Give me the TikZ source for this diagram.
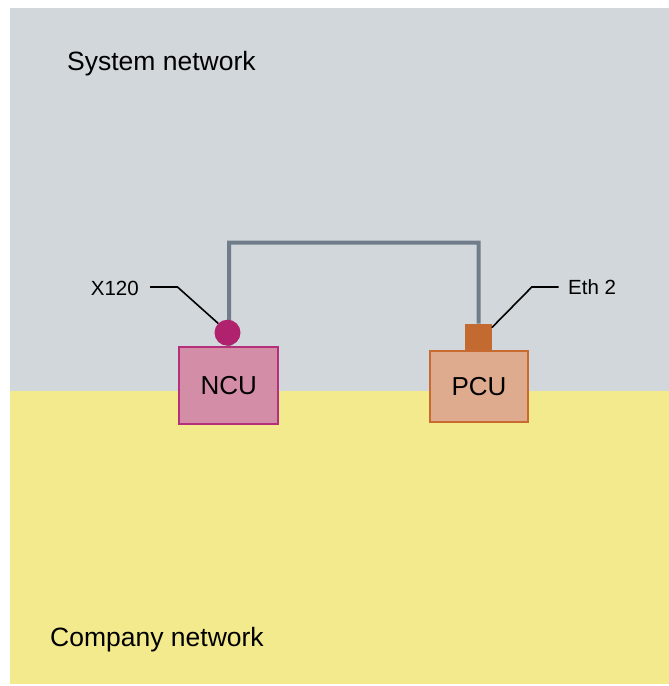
\documentclass[tikz,border=0pt]{standalone}
\usepackage{fontspec}
\setmainfont{Liberation Sans}
\definecolor{sysgray}{HTML}{D2D7DB}
\definecolor{compyellow}{HTML}{F2EA8C}
\definecolor{cablegray}{HTML}{707C8A}
\definecolor{ncufill}{HTML}{D38DA6}
\definecolor{ncuborder}{HTML}{B52F7B}
\definecolor{ncuport}{HTML}{B0216E}
\definecolor{pcufill}{HTML}{DFAB8E}
\definecolor{pcuborder}{HTML}{C96A30}
\definecolor{pcuportc}{HTML}{C36A30}
\tikzset{
  unitbox/.style={draw, line width=2pt, minimum width=#1, inner sep=0pt, font=\fontsize{26}{28}\selectfont},
  cable/.style={draw=cablegray, line width=4pt},
  leader/.style={draw=black, line width=1.6pt},
  zonelabel/.style={font=\fontsize{26.5}{28}\selectfont, inner sep=0pt, anchor=west},
  portlabel/.style={font=\fontsize{20.5}{22}\selectfont, inner sep=0pt},
}
\begin{document}
\begin{tikzpicture}[x=1pt,y=-1pt]
\useasboundingbox (0,0) rectangle (669,686);
\fill[white] (0,0) rectangle (669,686);
\fill[sysgray] (10,8) rectangle (669,391);
\fill[compyellow] (10,391) rectangle (669,684);
\node[zonelabel] (sys) at (67,63.5) {System network};
\node[zonelabel] (comp) at (50,639.5) {Company network};
% units
\node[unitbox=99pt, minimum height=77pt, fill=ncufill, draw=ncuborder] (ncu) at (228.8,385.7) {NCU};
\node[unitbox=97.7pt, minimum height=71pt, fill=pcufill, draw=pcuborder] (pcu) at (479,386.2) {PCU};
% ports
\node[draw=none, fill=pcuportc, minimum width=26.7pt, minimum height=27pt, inner sep=0pt, anchor=south] (eth) at (478.3,351) {};
\coordinate (bend) at (229,242.5);
\coordinate (bendr) at (478.7,242.5);
\draw[cable] ([xshift=0.3pt]ncu.north) -- (bend) -- (bendr) -- (bendr |- eth.north);
\node[circle, fill=ncuport, minimum size=26pt, inner sep=0pt] (x120) at (227.5,332.7) {};
% labels and leaders
\node[portlabel, anchor=east] (x120lbl) at (139,288) {X120};
\node[portlabel, anchor=west] (ethlbl) at (568,287) {Eth 2};
\coordinate (xa) at (150,287);
\coordinate (xb) at (177.5,287);
\draw[leader] (xa) -- (xb) -- (x120.135);
\coordinate (ea) at (558.5,287);
\coordinate (eb) at (531.8,287);
\draw[leader] (ea) -- (eb) -- ([yshift=-4pt]eth.north east);
\end{tikzpicture}
\end{document}
